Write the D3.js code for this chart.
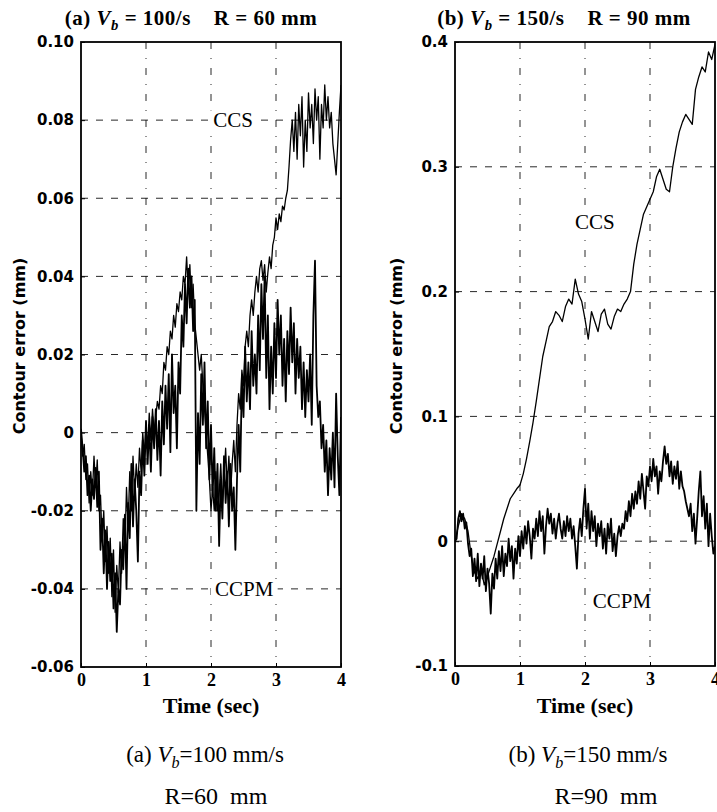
<!DOCTYPE html>
<html>
<head>
<meta charset="utf-8">
<script src="https://cdn.jsdelivr.net/npm/d3@7"></script>
<style>
  body { margin: 0; background: #fff; }
  svg { display: block; }
</style>
</head>
<body>
<div id="chart"></div>
<script>
// ===== Data =====
const xTicks = [0, 1, 2, 3, 4];
const xTickLabels = ["0", "1", "2", "3", "4"];

const leftYTicks = [-0.06, -0.04, -0.02, 0, 0.02, 0.04, 0.06, 0.08, 0.10];
const leftYLabels = ["-0.06", "-0.04", "-0.02", "0", "0.02", "0.04", "0.06", "0.08", "0.10"];
const rightYTicks = [-0.1, 0, 0.1, 0.2, 0.3, 0.4];
const rightYLabels = ["-0.1", "0", "0.1", "0.2", "0.3", "0.4"];

// (a) Vb = 100, R = 60 : samples every 0.025 s from 0 to 4 s
const leftStep = 0.025;
const leftCcs = [
  0.000, -0.006, -0.003, -0.012, -0.008, -0.018, -0.010, -0.016, -0.006, -0.014,
  -0.007, -0.020, -0.016, -0.028, -0.020, -0.033, -0.024, -0.036, -0.027, -0.042,
  -0.030, -0.046, -0.034, -0.041, -0.028, -0.036, -0.022, -0.030, -0.014, -0.024,
  -0.010, -0.020, -0.006, -0.016, -0.008, -0.014, -0.004, -0.010, 0.000, -0.006,
  0.002, -0.004, 0.005, -0.002, 0.006, 0.000, 0.004, 0.008, 0.006, 0.012,
  0.010, 0.018, 0.016, 0.022, 0.020, 0.026, 0.024, 0.030, 0.027, 0.033,
  0.031, 0.036, 0.034, 0.040, 0.038, 0.045, 0.036, 0.043, 0.032, 0.038,
  0.028, 0.024, 0.020, 0.016, 0.020, 0.012, 0.006, 0.000, -0.006, -0.012,
  -0.020, -0.014, -0.020, -0.010, -0.020, -0.016, -0.008, -0.018, -0.012, -0.004,
  -0.014, -0.006, -0.016, -0.008, -0.002, -0.010, 0.002, 0.010, 0.006, 0.016,
  0.012, 0.022, 0.026, 0.022, 0.030, 0.034, 0.030, 0.036, 0.040, 0.036,
  0.042, 0.044, 0.039, 0.043, 0.036, 0.041, 0.045, 0.042, 0.048, 0.050,
  0.055, 0.052, 0.056, 0.054, 0.058, 0.057, 0.060, 0.062, 0.068, 0.075,
  0.080, 0.072, 0.082, 0.070, 0.084, 0.076, 0.086, 0.068, 0.080, 0.072,
  0.087, 0.078, 0.084, 0.074, 0.088, 0.080, 0.086, 0.070, 0.084, 0.078,
  0.089, 0.080, 0.086, 0.078, 0.082, 0.074, 0.070, 0.066, 0.074, 0.082,
  0.089
];
const leftCcpm = [
  0.001, -0.004, -0.010, -0.006, -0.016, -0.011, -0.020, -0.012, -0.017, -0.009,
  -0.019, -0.010, -0.030, -0.022, -0.036, -0.025, -0.040, -0.028, -0.038, -0.031,
  -0.045, -0.036, -0.051, -0.040, -0.044, -0.030, -0.035, -0.021, -0.040, -0.018,
  -0.027, -0.008, -0.024, -0.012, -0.020, -0.033, -0.010, -0.016, -0.002, -0.011,
  0.003, -0.008, 0.002, -0.010, 0.004, -0.004, 0.006, -0.007, 0.003, -0.011,
  0.008, -0.003, 0.012, 0.001, 0.015, -0.005, 0.020, 0.005, 0.012, -0.004,
  0.018, 0.010, 0.030, 0.022, 0.038, 0.028, 0.042, 0.032, 0.040, 0.026,
  0.034, -0.020, 0.005, -0.008, 0.015, 0.002, 0.018, -0.004, 0.008, -0.012,
  0.002, -0.016, -0.004, -0.020, -0.008, -0.029, -0.012, -0.022, -0.006, -0.018,
  -0.010, -0.024, -0.008, -0.020, -0.014, -0.030, -0.012, 0.002, -0.010, 0.014,
  0.004, 0.022, 0.008, 0.018, 0.006, 0.026, 0.012, 0.020, 0.010, 0.030,
  0.016, 0.038, 0.024, 0.040, 0.014, 0.030, 0.006, 0.022, 0.010, 0.028,
  0.014, 0.034, 0.020, 0.030, 0.012, 0.024, 0.008, 0.026, 0.015, 0.032,
  0.018, 0.028, 0.010, 0.024, 0.014, 0.022, 0.006, 0.018, 0.004, 0.016,
  0.008, 0.020, 0.002, 0.030, 0.044, 0.012, 0.004, 0.008, -0.004, 0.002,
  -0.010, -0.002, -0.016, -0.004, -0.012, 0.000, -0.014, 0.010, -0.006, -0.016,
  0.004
];

// (b) Vb = 150, R = 90
const rightCcsStep = 0.05;
const rightCcs = [
  0.000, 0.012, 0.022, 0.018, 0.008, -0.012, -0.025, -0.030, -0.022, -0.035,
  -0.028, -0.020, -0.012, -0.002, 0.008, 0.018, 0.026, 0.034, 0.038, 0.042,
  0.045, 0.054, 0.066, 0.080, 0.095, 0.112, 0.130, 0.148, 0.160, 0.172,
  0.176, 0.184, 0.181, 0.176, 0.188, 0.194, 0.190, 0.210, 0.198, 0.192,
  0.178, 0.162, 0.184, 0.176, 0.168, 0.182, 0.186, 0.174, 0.170, 0.180,
  0.186, 0.184, 0.190, 0.194, 0.200, 0.222, 0.238, 0.250, 0.262, 0.268,
  0.274, 0.280, 0.292, 0.298, 0.290, 0.282, 0.280, 0.300, 0.315, 0.328,
  0.336, 0.342, 0.338, 0.334, 0.362, 0.372, 0.380, 0.376, 0.392, 0.386,
  0.398
];
const rightCcpmStep = 0.025;
const rightCcpm = [
  0.000, 0.002, 0.018, 0.024, 0.016, 0.022, 0.010, 0.015, -0.002, -0.012,
  -0.006, -0.028, -0.014, -0.032, -0.010, -0.036, -0.018, -0.030, -0.012, -0.040,
  -0.022, -0.034, -0.058, -0.026, -0.038, -0.014, -0.030, -0.008, -0.024, -0.004,
  -0.028, -0.010, -0.020, 0.002, -0.016, -0.004, -0.030, -0.006, -0.018, 0.004,
  -0.012, 0.008, -0.006, 0.012, -0.002, 0.016, 0.004, -0.014, 0.010, 0.002,
  0.018, 0.004, 0.024, 0.008, 0.020, -0.010, 0.012, 0.026, 0.014, 0.022,
  0.006, 0.018, 0.002, 0.014, 0.022, 0.010, 0.002, 0.016, 0.004, 0.020,
  0.008, 0.018, 0.002, 0.012, -0.004, -0.022, 0.006, 0.018, 0.004, 0.026,
  0.042, 0.010, 0.030, 0.002, 0.024, 0.008, 0.020, -0.004, 0.014, 0.004,
  0.016, -0.006, 0.010, -0.010, 0.014, 0.002, 0.018, -0.008, 0.006, -0.012,
  0.004, 0.012, 0.004, 0.014, 0.010, 0.024, 0.016, 0.032, 0.020, 0.038,
  0.026, 0.040, 0.030, 0.048, 0.034, 0.054, 0.040, 0.026, 0.052, 0.044,
  0.060, 0.048, 0.066, 0.052, 0.060, 0.038, 0.056, 0.048, 0.064, 0.076,
  0.062, 0.070, 0.052, 0.064, 0.046, 0.060, 0.050, 0.064, 0.042, 0.056,
  0.044, 0.040, 0.032, 0.026, 0.020, 0.030, 0.008, 0.022, -0.002, 0.018,
  0.040, 0.056, 0.020, 0.036, 0.010, 0.030, -0.004, 0.022, 0.004, -0.010,
  -0.004
];

// ===== Layout =====
const width = 717;
const height = 812;
const serif = "'Liberation Serif', 'Times New Roman', serif";
const sans = "'DejaVu Sans', sans-serif";

const svg = d3.select("#chart").append("svg")
  .attr("width", width)
  .attr("height", height);

const panels = [
  {
    id: "a", left: 81, right: 341, top: 42, bottom: 667,
    yDomain: [-0.06, 0.10], yTicks: leftYTicks, yLabels: leftYLabels,
    series: [
      { values: leftCcs, step: leftStep, width: 1.3 },
      { values: leftCcpm, step: leftStep, width: 1.8 }
    ],
    labels: [
      { text: "CCS", t: 2.34, v: 0.08 },
      { text: "CCPM", t: 2.51, v: -0.04 }
    ],
    titleX: 191, titleHead: "(a) ", titleTail: " = 100/s    R = 60 mm",
    yLabelX: 19,
    capX: 205, capHead: "(a) ", capTail: "=100 mm/s",
    cap2X: 216, cap2: "R=60  mm"
  },
  {
    id: "b", left: 455, right: 715, top: 42, bottom: 666,
    yDomain: [-0.1, 0.4], yTicks: rightYTicks, yLabels: rightYLabels,
    series: [
      { values: rightCcs, step: rightCcsStep, width: 1.3 },
      { values: rightCcpm, step: rightCcpmStep, width: 1.8 }
    ],
    labels: [
      { text: "CCS", t: 2.15, v: 0.256 },
      { text: "CCPM", t: 2.57, v: -0.048 }
    ],
    titleX: 564, titleHead: "(b) ", titleTail: " = 150/s    R = 90 mm",
    yLabelX: 396,
    capX: 588, capHead: "(b) ", capTail: "=150 mm/s",
    cap2X: 606, cap2: "R=90  mm"
  }
];

// text with an italic V and subscript b
function vbText(sel, head, tail, size) {
  sel.append("tspan").text(head);
  sel.append("tspan").attr("font-style", "italic").text("V");
  sel.append("tspan")
    .attr("font-style", "italic")
    .attr("font-size", size * 0.7)
    .attr("dy", size * 0.25)
    .text("b");
  sel.append("tspan").attr("dy", -size * 0.25).text(tail);
}

panels.forEach(function(p) {
  const x = d3.scaleLinear().domain([0, 4]).range([p.left, p.right]);
  const y = d3.scaleLinear().domain(p.yDomain).range([p.bottom, p.top]);

  const g = svg.append("g");

  // Clip
  g.append("clipPath")
    .attr("id", "clip-" + p.id)
    .append("rect")
      .attr("x", p.left)
      .attr("y", p.top)
      .attr("width", p.right - p.left)
      .attr("height", p.bottom - p.top);

  // Grid
  g.selectAll(".hgrid")
    .data(p.yTicks.slice(1, -1))
    .enter()
    .append("line")
      .attr("x1", p.left)
      .attr("x2", p.right)
      .attr("y1", d => y(d))
      .attr("y2", d => y(d))
      .attr("stroke", "#111")
      .attr("stroke-width", 0.9)
      .attr("stroke-dasharray", "7,8");

  g.selectAll(".vgrid")
    .data(xTicks.slice(1, -1))
    .enter()
    .append("line")
      .attr("x1", d => x(d))
      .attr("x2", d => x(d))
      .attr("y1", p.top)
      .attr("y2", p.bottom)
      .attr("stroke", "#111")
      .attr("stroke-width", 0.9)
      .attr("stroke-dasharray", "7,9,1,9");

  // Labels on the plot, with white backing
  p.labels.forEach(function(l) {
    const t = g.append("text")
      .attr("x", x(l.t))
      .attr("y", y(l.v))
      .attr("dy", "0.35em")
      .attr("text-anchor", "middle")
      .attr("font-family", serif)
      .attr("font-size", 21)
      .text(l.text);
    const bb = t.node().getBBox();
    g.insert("rect", () => t.node())
      .attr("x", bb.x - 4)
      .attr("y", bb.y + 2)
      .attr("width", bb.width + 8)
      .attr("height", bb.height - 4)
      .attr("fill", "#fff");
  });

  // Traces
  const line = d3.line()
    .x(d => x(d.t))
    .y(d => y(d.v));

  p.series.forEach(function(s) {
    g.append("path")
      .datum(s.values.map((v, i) => ({ t: i * s.step, v: v })))
      .attr("clip-path", "url(#clip-" + p.id + ")")
      .attr("fill", "none")
      .attr("stroke", "#000")
      .attr("stroke-width", s.width)
      .attr("stroke-linejoin", "round")
      .attr("d", line);
  });

  // Frame
  g.append("rect")
    .attr("x", p.left)
    .attr("y", p.top)
    .attr("width", p.right - p.left)
    .attr("height", p.bottom - p.top)
    .attr("fill", "none")
    .attr("stroke", "#000")
    .attr("stroke-width", 1.8);

  // Axes
  const gy = g.append("g")
    .attr("transform", `translate(${p.left},0)`)
    .call(d3.axisLeft(y)
      .tickValues(p.yTicks)
      .tickFormat((d, i) => p.yLabels[i])
      .tickSize(-4)
      .tickPadding(7));
  gy.select(".domain").remove();
  gy.selectAll("text")
    .attr("font-family", sans)
    .attr("font-size", 15)
    .attr("font-weight", "bold")
    .attr("fill", "#000");

  const gx = g.append("g")
    .attr("transform", `translate(0,${p.bottom})`)
    .call(d3.axisBottom(x)
      .tickValues(xTicks)
      .tickFormat((d, i) => xTickLabels[i])
      .tickSize(-4)
      .tickPadding(6));
  gx.select(".domain").remove();
  gx.selectAll("text")
    .attr("font-family", serif)
    .attr("font-size", 18)
    .attr("font-weight", "bold")
    .attr("fill", "#000");

  // Title
  const title = g.append("text")
    .attr("x", p.titleX)
    .attr("y", 25)
    .attr("text-anchor", "middle")
    .attr("font-family", serif)
    .attr("font-size", 21)
    .attr("font-weight", "bold")
    .attr("letter-spacing", 0.5)
    .style("white-space", "pre");
  vbText(title, p.titleHead, p.titleTail, 21);

  // Axis labels
  g.append("text")
    .attr("transform", `translate(${p.yLabelX},346) rotate(-90)`)
    .attr("text-anchor", "middle")
    .attr("dy", "0.35em")
    .attr("font-family", sans)
    .attr("font-size", 16)
    .attr("font-weight", "bold")
    .text("Contour error (mm)");

  g.append("text")
    .attr("x", (p.left + p.right) / 2)
    .attr("y", 713)
    .attr("text-anchor", "middle")
    .attr("font-family", serif)
    .attr("font-size", 22)
    .attr("font-weight", "bold")
    .text("Time (sec)");

  // Captions
  const cap = g.append("text")
    .attr("x", p.capX)
    .attr("y", 762)
    .attr("text-anchor", "middle")
    .attr("font-family", serif)
    .attr("font-size", 23)
    .style("white-space", "pre");
  vbText(cap, p.capHead, p.capTail, 23);

  g.append("text")
    .attr("x", p.cap2X)
    .attr("y", 804)
    .attr("text-anchor", "middle")
    .attr("font-family", serif)
    .attr("font-size", 24)
    .style("white-space", "pre")
    .text(p.cap2);
});
</script>
</body>
</html>
